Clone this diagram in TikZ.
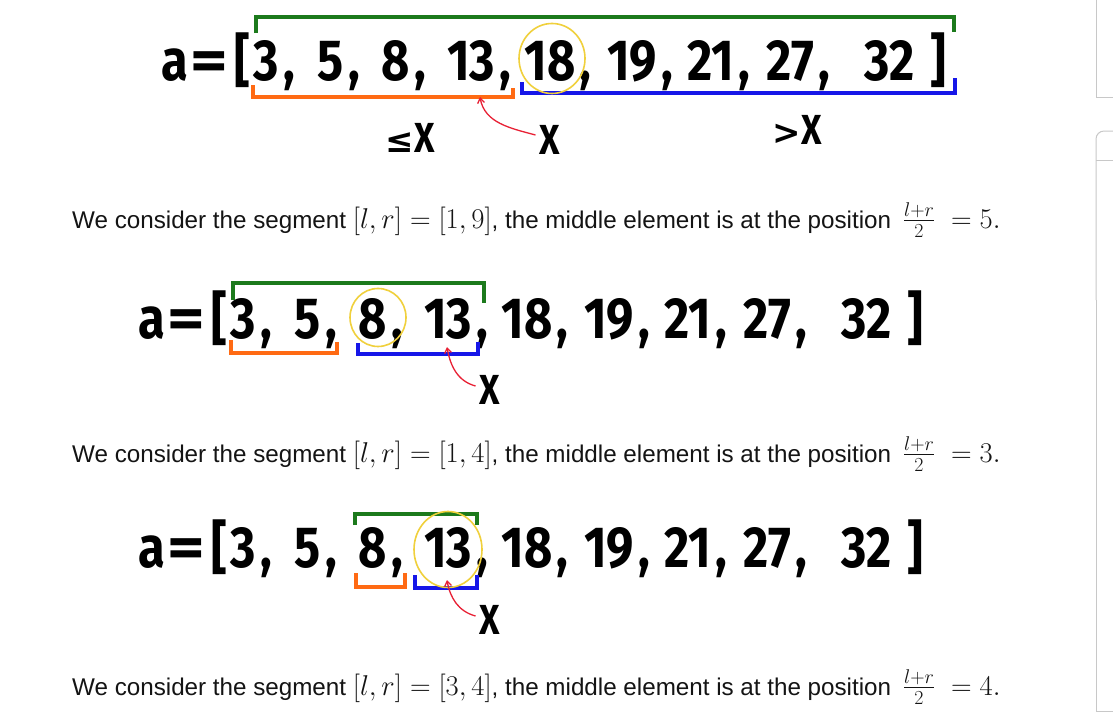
\documentclass[tikz,border=0pt]{standalone}
\usepackage{amsmath}
\usepackage{amssymb}
\usepackage{graphicx}
\usepackage{fontspec}
\setmainfont{Liberation Sans}
\newfontfamily\handfont{Fira Sans}
\newfontfamily\symfont{DejaVu Sans}
\usetikzlibrary{arrows.meta,positioning,calc}
\definecolor{seggreen}{RGB}{28,122,28}
\definecolor{leorange}{RGB}{255,106,19}
\definecolor{gtblue}{RGB}{22,22,232}
\definecolor{midyellow}{RGB}{240,208,60}
\definecolor{ptrred}{RGB}{232,32,52}
\definecolor{panelgray}{RGB}{200,200,200}
\newcommand{\hw}[1]{\scalebox{0.84}[1]{#1}}
\newcommand{\mj}[1]{\scalebox{1.15}{$#1$}}
\tikzset{
  tok/.style={inner sep=0pt, anchor=base, font=\handfont\bfseries\fontsize{58}{60}\selectfont},
  xlab/.style={inner sep=0pt, font=\handfont\bfseries\fontsize{42}{44}\selectfont},
  txtline/.style={inner sep=0pt, anchor=base west, font=\fontsize{24.2}{29}\selectfont, text=black!92},
  segbr/.style={draw=seggreen, line width=4pt},
  lebr/.style={draw=leorange, line width=4pt},
  gtbr/.style={draw=gtblue, line width=4pt},
  midring/.style={draw=midyellow, line width=1.6pt},
  ptr/.style={draw=ptrred, line width=1.3pt, -{Straight Barb[length=5pt,width=7pt]}},
  panel/.style={draw=panelgray, line width=1pt},
}
\begin{document}
\begin{tikzpicture}[x=1pt,y=1pt]
  \useasboundingbox[fill=white] (0,0) rectangle (1113,-724);

  % the array, three times
  \foreach \row/\dx/\by in {1/23/80, 2/0/338, 3/0/567} {
    \node[tok] (r\row-a)  at (152+\dx,-\by) {\hw{a}};
    \node[tok] (r\row-eq) at (186+\dx,-\by) {\scalebox{1.25}[1]{=}};
    \node[tok] (r\row-lb) at (219+\dx,-\by) {\hw{[}};
    \foreach \v/\x [count=\i] in {3/243,5/308,8/373,13/448,18/527,19/609,21/688,27/767,32/867} {
      \node[tok] (r\row-\i) at (\x+\dx,-\by) {\hw{\v}};
    }
    \foreach \i in {1,...,8} {
      \node[tok, anchor=base west] (r\row-c\i) at ([xshift=4pt]r\row-\i.base east) {\hw{,}};
    }
    \node[tok] (r\row-rb) at (915+\dx,-\by) {\hw{]}};
  }

  % row 1: [l,r]=[1,9], middle 18
  \draw[segbr] (256,-33) |- (954,-17) -- (954,-32);
  \draw[lebr]  (253,-85) |- (513,-97) -- (513,-88);
  \draw[gtbr]  (522,-82) |- (955,-93) -- (955,-78);
  \draw[midring] ([xshift=2pt,yshift=2pt]r1-5.center) ellipse [x radius=33pt, y radius=35pt];
  \node[xlab] (x1le) at (410,-138) {{\symfont\bfseries\fontsize{34}{36}\selectfont ≤}\hw{X}};
  \node[xlab] (x1)   at (550,-140) {\hw{X}};
  \node[xlab] (x1gt) at (797,-130) {{\symfont\bfseries\fontsize{34}{36}\selectfont >}\hw{X}};
  \coordinate (p1) at (480,-97);
  \draw[ptr] ([xshift=-4pt,yshift=5pt]x1.west) to[out=165,in=-80] (p1);

  % row 2: [l,r]=[1,4], middle 8
  \draw[segbr] (233,-300) |- (484,-283) -- (484,-303);
  \draw[lebr]  (231,-340) |- (337,-353) -- (337,-342);
  \draw[gtbr]  (358,-343) |- (478,-354) -- (478,-342);
  \draw[midring] ([xshift=5pt,yshift=1pt]r2-3.center) ellipse [x radius=28pt, y radius=29pt];
  \node[xlab] (x2) at (490,-390) {\hw{X}};
  \coordinate (p2) at (447,-347);
  \draw[ptr] ([xshift=-4pt,yshift=4pt]x2.west) to[out=165,in=-80] (p2);

  % row 3: [l,r]=[3,4], middle 13
  \draw[segbr] (355,-525) |- (477,-514) -- (477,-525);
  \draw[lebr]  (356,-573) |- (405,-587) -- (405,-573);
  \draw[gtbr]  (415,-575) |- (477,-588) -- (477,-575);
  \draw[midring] ([yshift=-2pt]r3-4.center) ellipse [x radius=34pt, y radius=38pt];
  \node[xlab] (x3) at (490,-620) {\hw{X}};
  \coordinate (p3) at (447,-580);
  \draw[ptr] ([xshift=-4pt,yshift=4pt]x3.west) to[out=165,in=-80] (p3);

  % explanations
  \node[txtline] (t1) at (72,-228) {We consider the segment \mj{[l,r]=[1,9]}, the middle element is at the position \mj{\,\frac{l+r}{2}\mkern5mu=5.}};
  \node[txtline] (t2) at (72,-462) {We consider the segment \mj{[l,r]=[1,4]}, the middle element is at the position \mj{\,\frac{l+r}{2}\mkern5mu=3.}};
  \node[txtline] (t3) at (72,-695) {We consider the segment \mj{[l,r]=[3,4]}, the middle element is at the position \mj{\,\frac{l+r}{2}\mkern5mu=4.}};

  % page frames at the right edge
  \draw[panel] (1096,0) -- (1096,-97) -- (1113,-97);
  \draw[panel, rounded corners=8pt] (1113,-131) -- (1096,-131) -- (1096,-300);
  \draw[panel] (1096,-300) -- (1096,-711) -- (1113,-711);
  \draw[panel] (1096,-160) -- (1113,-160);
\end{tikzpicture}
\end{document}
